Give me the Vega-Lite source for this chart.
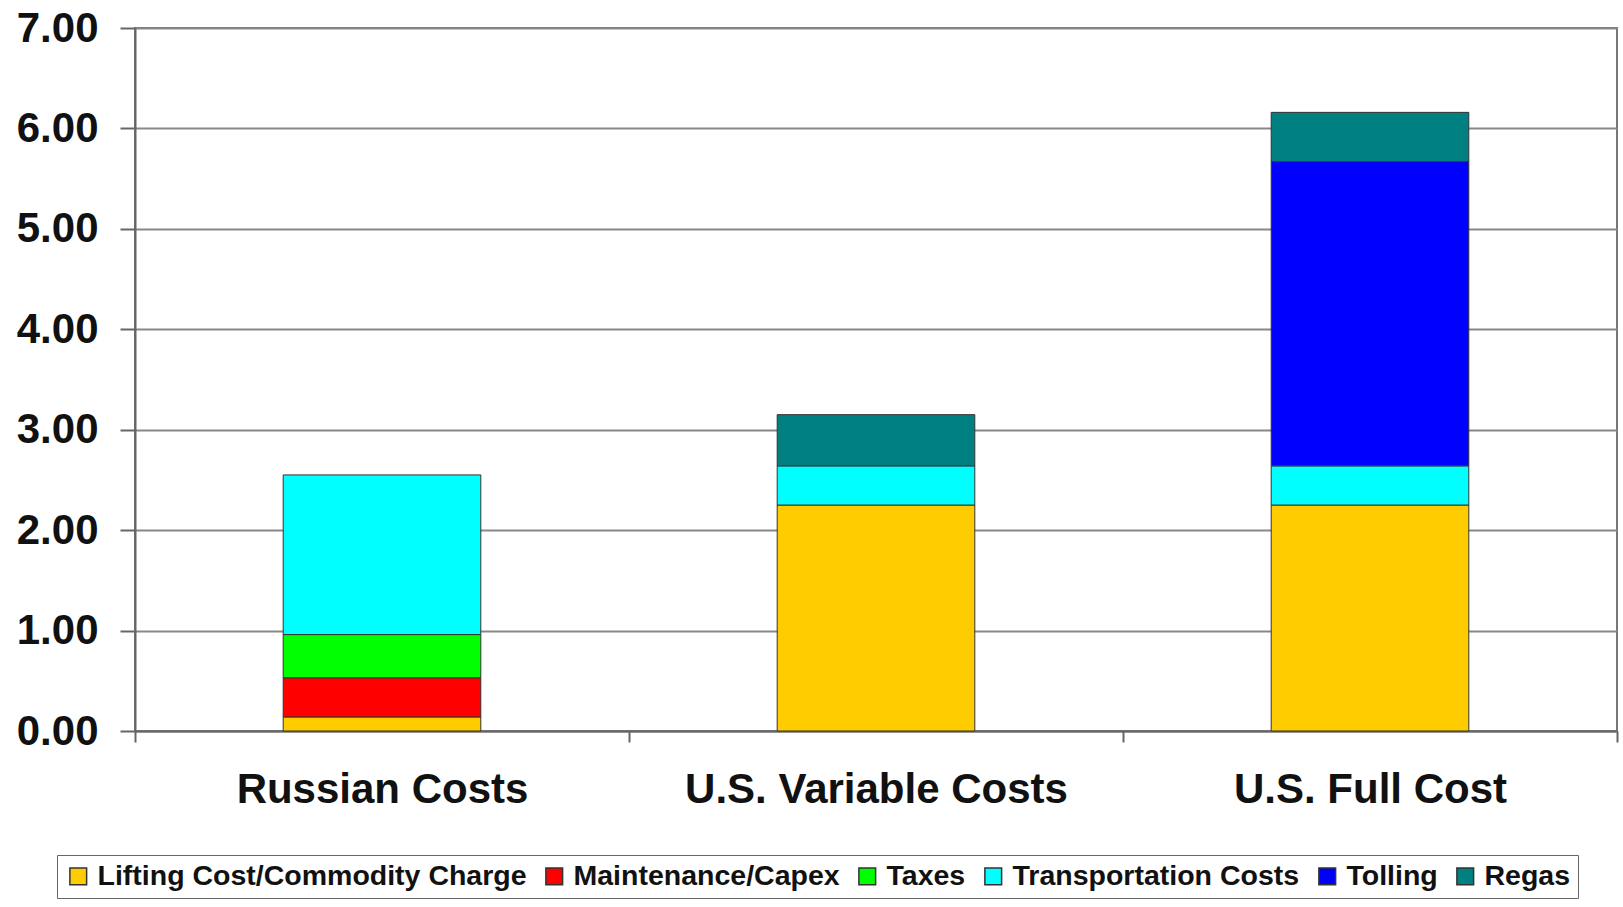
{
  "$schema": "https://vega.github.io/schema/vega-lite/v6.json",
  "width": 1482,
  "height": 703,
  "autosize": {"type": "none"},
  "padding": {"left": 135, "top": 28, "right": 6, "bottom": 176},
  "background": "white",
  "config": {
    "font": "Liberation Sans",
    "view": {"stroke": "#777777", "strokeWidth": 2}
  },
  "data": {
    "values": [
      {"category": "Russian Costs", "component": "Lifting Cost/Commodity Charge", "idx": 1, "value": 0.14},
      {"category": "Russian Costs", "component": "Maintenance/Capex", "idx": 2, "value": 0.39},
      {"category": "Russian Costs", "component": "Taxes", "idx": 3, "value": 0.43},
      {"category": "Russian Costs", "component": "Transportation Costs", "idx": 4, "value": 1.59},
      {"category": "U.S. Variable Costs", "component": "Lifting Cost/Commodity Charge", "idx": 1, "value": 2.25},
      {"category": "U.S. Variable Costs", "component": "Transportation Costs", "idx": 4, "value": 0.39},
      {"category": "U.S. Variable Costs", "component": "Regas", "idx": 6, "value": 0.51},
      {"category": "U.S. Full Cost", "component": "Lifting Cost/Commodity Charge", "idx": 1, "value": 2.25},
      {"category": "U.S. Full Cost", "component": "Transportation Costs", "idx": 4, "value": 0.39},
      {"category": "U.S. Full Cost", "component": "Tolling", "idx": 5, "value": 3.03},
      {"category": "U.S. Full Cost", "component": "Regas", "idx": 6, "value": 0.49}
    ]
  },
  "mark": {"type": "bar", "stroke": "#333333", "strokeWidth": 1, "width": {"band": 0.4}},
  "encoding": {
    "x": {
      "field": "category",
      "type": "nominal",
      "sort": ["Russian Costs", "U.S. Variable Costs", "U.S. Full Cost"],
      "scale": {"paddingInner": 0, "paddingOuter": 0},
      "axis": {
        "title": null,
        "labelAngle": 0,
        "labelFont": "Liberation Sans",
        "labelFontSize": 42,
        "labelFontWeight": "bold",
        "labelColor": "#111111",
        "labelPadding": 27,
        "labelLimit": 1000,
        "tickBand": "extent",
        "tickSize": 11,
        "tickColor": "#666666",
        "tickWidth": 2,
        "domainColor": "#666666",
        "domainWidth": 2,
        "grid": false
      }
    },
    "y": {
      "field": "value",
      "type": "quantitative",
      "stack": "zero",
      "scale": {"domain": [0, 7], "nice": false},
      "axis": {
        "title": null,
        "values": [0, 1, 2, 3, 4, 5, 6, 7],
        "format": ".2f",
        "labelFont": "Liberation Sans",
        "labelFontSize": 42,
        "labelFontWeight": "bold",
        "labelColor": "#111111",
        "labelPadding": 22,
        "tickSize": 15,
        "tickColor": "#666666",
        "tickWidth": 2,
        "domainColor": "#666666",
        "domainWidth": 2,
        "grid": true,
        "gridColor": "#888888",
        "gridWidth": 2
      }
    },
    "color": {
      "field": "component",
      "type": "nominal",
      "sort": ["Lifting Cost/Commodity Charge", "Maintenance/Capex", "Taxes", "Transportation Costs", "Tolling", "Regas"],
      "scale": {
        "domain": ["Lifting Cost/Commodity Charge", "Maintenance/Capex", "Taxes", "Transportation Costs", "Tolling", "Regas"],
        "range": ["#FFCC00", "#FF0000", "#00FF00", "#00FFFF", "#0000FF", "#008080"]
      },
      "legend": {
        "title": null,
        "orient": "none",
        "legendX": -78,
        "legendY": 827,
        "direction": "horizontal",
        "columns": 0,
        "symbolType": "square",
        "symbolSize": 280,
        "symbolStrokeColor": "#333333",
        "symbolStrokeWidth": 1.5,
        "symbolOpacity": 1,
        "labelFont": "Liberation Sans",
        "labelFontSize": 28.5,
        "labelFontWeight": "bold",
        "labelColor": "#111111",
        "labelOffset": 5,
        "labelLimit": 1000,
        "columnPadding": 13,
        "padding": 7,
        "strokeColor": "#666666",
        "fillColor": "white"
      }
    },
    "order": {"field": "idx", "type": "quantitative", "sort": "ascending"}
  }
}
